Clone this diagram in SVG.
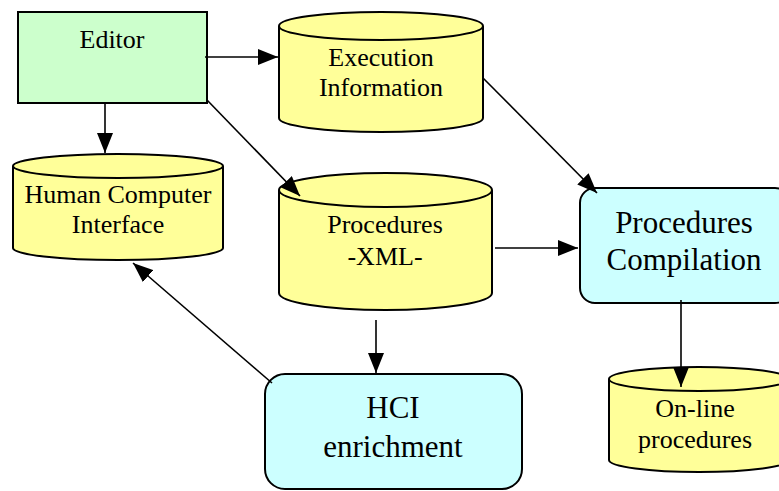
<svg xmlns="http://www.w3.org/2000/svg" width="779" height="491" viewBox="0 0 779 491">
<style>
.cyl{fill:#ffff99;stroke:#000;stroke-width:2}
.t{font-family:"Liberation Serif","Times New Roman",serif;fill:#000;text-anchor:middle}
.s{font-size:26px}
.m{font-size:31px}
.l{font-size:31px}
.c{stroke:#000;stroke-width:1.6;fill:none;marker-end:url(#ah)}
</style>
<defs>
<marker id="ah" markerWidth="22" markerHeight="16" refX="20" refY="8" orient="auto" markerUnits="userSpaceOnUse">
<path d="M0,0 L20,8 L0,16 Z" fill="#000"/>
</marker>
</defs>
<rect width="779" height="491" fill="#fff"/>
<g id="editor">
<rect x="18" y="12" width="189" height="91" fill="#ccffcc" stroke="#000" stroke-width="2"/>
<text class="t s" x="112" y="48">Editor</text>
</g>
<g id="exec">
<path class="cyl" d="M279,26 A102,14 0 0 1 483,26 L483,118 A102,14 0 0 1 279,118 Z"/>
<path d="M279,26 A102,14 0 0 0 483,26" fill="none" stroke="#000" stroke-width="2"/>
<text class="t s" x="381" y="66">Execution</text>
<text class="t s" x="381" y="96">Information</text>
</g>
<g id="procxml">
<path class="cyl" d="M279,190 A106.5,17 0 0 1 492,190 L492,293 A106.5,17 0 0 1 279,293 Z"/>
<path d="M279,190 A106.5,17 0 0 0 492,190" fill="none" stroke="#000" stroke-width="2"/>
<text class="t s" x="385" y="233">Procedures</text>
<text class="t s" x="385" y="265">-XML-</text>
</g>
<g id="hci">
<path class="cyl" d="M13,166 A105,12 0 0 1 223,166 L223,248 A105,12 0 0 1 13,248 Z"/>
<path d="M13,166 A105,12 0 0 0 223,166" fill="none" stroke="#000" stroke-width="2"/>
<text class="t s" x="118" y="203">Human Computer</text>
<text class="t s" x="118" y="233">Interface</text>
</g>
<g id="compilation">
<rect x="580" y="188" width="210" height="115" rx="15" ry="15" fill="#ccffff" stroke="#000" stroke-width="2"/>
<text class="t m" x="684" y="233">Procedures</text>
<text class="t m" x="684" y="270">Compilation</text>
</g>
<g id="online">
<path class="cyl" d="M609,379 A90,12 0 0 1 789,379 L789,460 A90,12 0 0 1 609,460 Z"/>
<path d="M609,379 A90,12 0 0 0 789,379" fill="none" stroke="#000" stroke-width="2"/>
<text class="t s" x="695" y="417">On-line</text>
<text class="t s" x="695" y="448">procedures</text>
</g>
<g id="hcienrich">
<rect x="265" y="374" width="257" height="115" rx="20" ry="20" fill="#ccffff" stroke="#000" stroke-width="2"/>
<text class="t l" x="393" y="418">HCI</text>
<text class="t l" x="393" y="457">enrichment</text>
</g>
<g id="connectors">
<line class="c" x1="205" y1="57" x2="278" y2="57"/>
<line class="c" x1="105" y1="103" x2="105" y2="153"/>
<line class="c" x1="207" y1="100" x2="300" y2="196"/>
<line class="c" x1="483" y1="78" x2="597" y2="193"/>
<line class="c" x1="495" y1="248" x2="578" y2="248"/>
<line class="c" x1="376" y1="320" x2="376" y2="373"/>
<line class="c" x1="272" y1="383" x2="133" y2="263"/>
<line class="c" x1="681" y1="300" x2="681" y2="387"/>
</g>
</svg>
